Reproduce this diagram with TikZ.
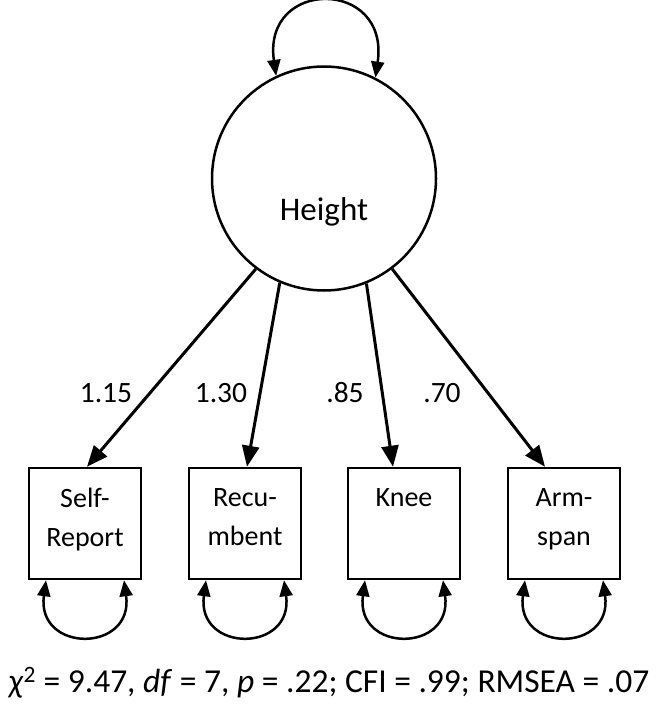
\documentclass[tikz,border=0pt]{standalone}
\usepackage{fontspec}
\setmainfont{Carlito}
\usetikzlibrary{arrows.meta,calc}
\begin{document}
\begin{tikzpicture}[x=1pt,y=-1pt,
  lat/.style={draw, circle, line width=2.5pt, minimum size=224pt, inner sep=0pt},
  obs/.style={draw, rectangle, line width=2.5pt, minimum width=112pt, minimum height=111pt, inner sep=0pt},
  obstext/.style={align=center, anchor=north, inner sep=0pt, font=\fontsize{28}{39}\selectfont},
  lbl/.style={inner sep=0pt, anchor=base, font=\fontsize{29.5}{34}\selectfont},
  fitlbl/.style={inner sep=0pt, font=\fontsize{33.5}{40}\selectfont},
  load/.style={line width=3pt, -{Triangle[length=21pt,width=17pt]}},
  var/.style={line width=2.5pt, {Triangle[length=16pt,width=13pt]}-{Triangle[length=16pt,width=13pt]}},
]
\useasboundingbox (0,0) rectangle (658,717);
\node[lat] (H) at (324,178.5) {};
\node[inner sep=0pt, anchor=base, font=\fontsize{33}{40}\selectfont] (Ht) at (324,220) {Height};

\node[obs] (sr) at (85,523.5) {};
\node[obs] (rc) at (245,523.5) {};
\node[obs] (kn) at (404,523.5) {};
\node[obs] (as) at (564,523.5) {};

\node[obstext] (srt) at (85,488) {Self-\\Report};
\node[obstext] (rct) at (245,488) {Recu-\\mbent};
\node[obstext] (knt) at (404,488) {Knee};
\node[obstext] (ast) at (564,488) {Arm-\\span};

\draw[load] (H.233) -- ([xshift=2pt]sr.north);
\draw[load] (H.247) -- ([xshift=2pt]rc.north);
\draw[load] (H.292.5) -- ([xshift=-11pt]kn.north);
\draw[load] (H.307.5) -- ([xshift=-19pt]as.north);

\node[lbl] (l1) at (106,402) {1.15};
\node[lbl] (l2) at (221,402) {1.30};
\node[lbl] (l3) at (345,402) {.85};
\node[lbl] (l4) at (442,402) {.70};

\draw[var] (H.115) .. controls (262,-22) and (390,-22) .. (H.63);
\foreach \b in {sr,rc,kn,as}{
  \draw[var] ($(\b.south)+(-39,0)$) .. controls +(-10,73) and +(10,73) .. ($(\b.south)+(39,0)$);
}

\node[fitlbl, anchor=base] (fit) at (329,692) {\textit{χ}\textsuperscript{2} = 9.47, \textit{df} = 7, \textit{p} = .22; CFI = .99; RMSEA = .07};
\end{tikzpicture}
\end{document}
